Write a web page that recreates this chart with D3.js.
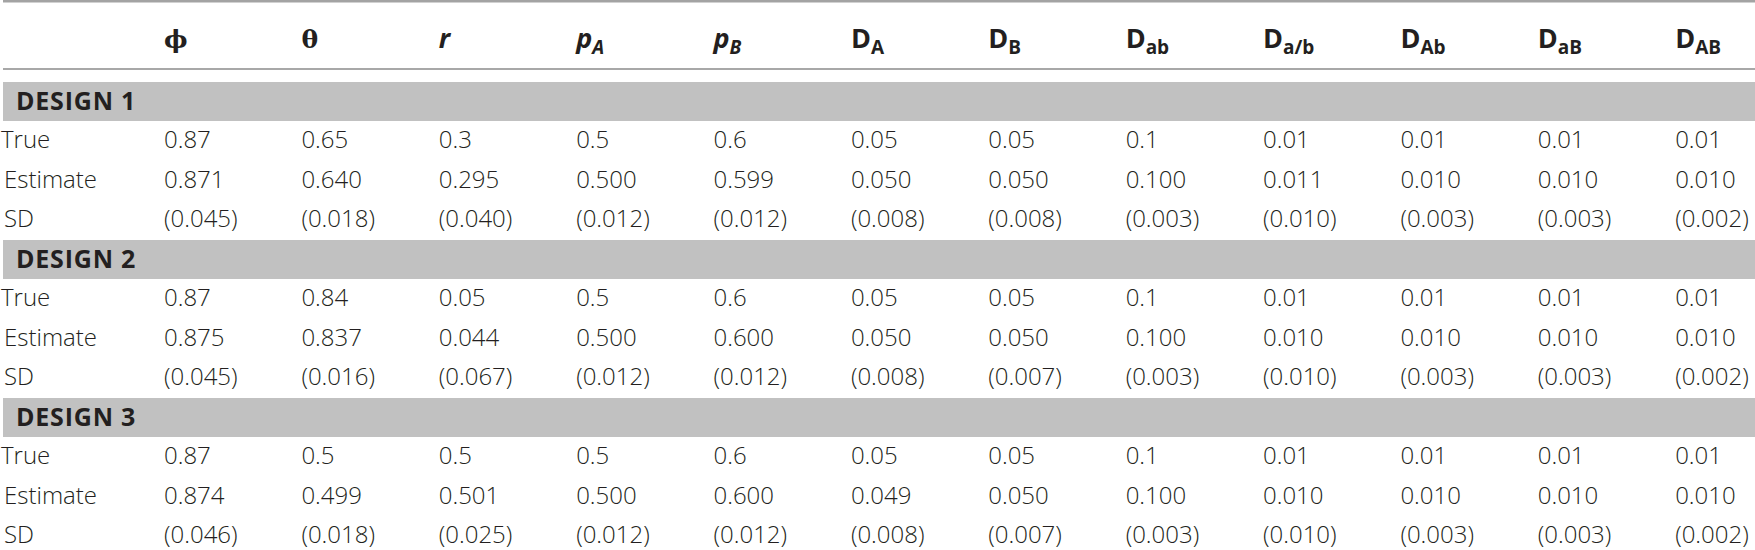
<!DOCTYPE html>
<html>
<head>
<meta charset="utf-8">
<script src="https://cdn.jsdelivr.net/npm/d3@7/dist/d3.min.js"></script>
<style>
  html, body { margin: 0; padding: 0; background: #fff; }
  svg { display: block; }
  text { font-family: "Open Sans", "Liberation Sans", sans-serif; fill: #231f20; }
</style>
</head>
<body>
<svg id="chart" width="1755" height="550"></svg>
<script>
// ---- data ----
const headerBase   = ["ϕ", "θ", "r", "p", "p", "D", "D", "D", "D", "D", "D", "D"];
const headerSub    = ["", "", "", "A", "B", "A", "B", "ab", "a/b", "Ab", "aB", "AB"];
const headerItalic = [false, false, true, true, true, false, false, false, false, false, false, false];
const headerGreek  = [true, true, false, false, false, false, false, false, false, false, false, false];
const designs   = ["DESIGN 1", "DESIGN 2", "DESIGN 3"];
const rowLabels = ["True", "Estimate", "SD"];

const design1True = [0.87, 0.65, 0.3, 0.5, 0.6, 0.05, 0.05, 0.1, 0.01, 0.01, 0.01, 0.01];
const design1Est  = [0.871, 0.640, 0.295, 0.500, 0.599, 0.050, 0.050, 0.100, 0.011, 0.010, 0.010, 0.010];
const design1SD   = [0.045, 0.018, 0.040, 0.012, 0.012, 0.008, 0.008, 0.003, 0.010, 0.003, 0.003, 0.002];

const design2True = [0.87, 0.84, 0.05, 0.5, 0.6, 0.05, 0.05, 0.1, 0.01, 0.01, 0.01, 0.01];
const design2Est  = [0.875, 0.837, 0.044, 0.500, 0.600, 0.050, 0.050, 0.100, 0.010, 0.010, 0.010, 0.010];
const design2SD   = [0.045, 0.016, 0.067, 0.012, 0.012, 0.008, 0.007, 0.003, 0.010, 0.003, 0.003, 0.002];

const design3True = [0.87, 0.5, 0.5, 0.5, 0.6, 0.05, 0.05, 0.1, 0.01, 0.01, 0.01, 0.01];
const design3Est  = [0.874, 0.499, 0.501, 0.500, 0.600, 0.049, 0.050, 0.100, 0.010, 0.010, 0.010, 0.010];
const design3SD   = [0.046, 0.018, 0.025, 0.012, 0.012, 0.008, 0.007, 0.003, 0.010, 0.003, 0.003, 0.002];

const designValues = [
  [design1True, design1Est, design1SD],
  [design2True, design2Est, design2SD],
  [design3True, design3Est, design3SD]
];

// ---- layout ----
const W = 1755, H = 550;
const svg = d3.select("#chart");
const colIdx = d3.range(headerBase.length);

const x = d3.scaleBand().domain(colIdx).range([164, 1812.5]).paddingInner(0).paddingOuter(0);

// slots: for each design, one band + three rows
const slots = [];
designs.forEach((d, di) => {
  slots.push("band" + di);
  rowLabels.forEach((r, ri) => slots.push("row" + di + "_" + ri));
});
const y = d3.scaleBand().domain(slots).range([82, 82 + 12 * 39.5]).paddingInner(0);

const f3 = d3.format(".3f");
const fmt = [v => String(v), v => f3(v), v => "(" + f3(v) + ")"];

// rules
svg.append("rect").attr("x", 3).attr("y", 0).attr("width", W - 3).attr("height", 2.5).attr("fill", "#a3a3a3");
svg.append("rect").attr("x", 3).attr("y", 68).attr("width", W - 3).attr("height", 2).attr("fill", "#a8a8a8");

// header
const hdr = svg.append("g");
colIdx.forEach(i => {
  const t = hdr.append("text")
    .attr("x", x(i))
    .attr("y", 48)
    .style("font-size", headerGreek[i] ? "25px" : "27px")
    .style("font-family", headerGreek[i] ? "'DejaVu Serif', 'Liberation Serif', serif" : null)
    .style("font-weight", "700")
    .style("font-style", headerItalic[i] ? "italic" : "normal");
  t.append("tspan").text(headerBase[i]);
  if (headerSub[i]) {
    t.append("tspan")
      .attr("dy", 6)
      .style("font-size", "19px")
      .text(headerSub[i]);
  }
});

// design blocks
designs.forEach((dname, di) => {
  const by = y("band" + di);
  svg.append("rect")
    .attr("x", 3).attr("y", by)
    .attr("width", W - 3).attr("height", 39)
    .attr("fill", "#c1c1c1");
  svg.append("text")
    .attr("x", 16)
    .attr("y", by + 19.5 + 8.8)
    .style("font-size", "25px")
    .style("font-weight", "700")
    .style("letter-spacing", "0.8px")
    .text(dname);

  rowLabels.forEach((rl, ri) => {
    const key = "row" + di + "_" + ri;
    const base = y(key) + y.bandwidth() / 2 - 1.5 + 8.6;
    svg.append("text")
      .attr("x", ri === 0 ? 1 : 4)
      .attr("y", base)
      .style("font-size", "24px")
      .style("font-weight", "300")
      .text(rl);
    svg.append("g").selectAll("text")
      .data(designValues[di][ri])
      .join("text")
      .attr("x", (d, i) => x(i))
      .attr("y", base)
      .style("font-size", "24px")
      .style("font-weight", "300")
      .text(d => fmt[ri](d));
  });
});
</script>
</body>
</html>
